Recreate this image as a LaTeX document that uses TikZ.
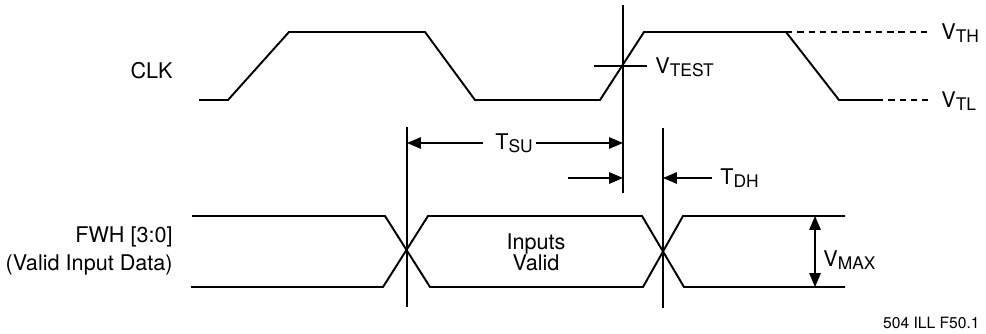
\documentclass[tikz,border=0pt]{standalone}
\usepackage{fontspec}
\setmainfont{TeX Gyre Heros}
\usetikzlibrary{arrows}
\newcommand{\sub}[2]{#1\raisebox{-0.25ex}{\fontsize{9.9}{10}\selectfont #2}}
\tikzset{
  wave/.style={black,line width=1.1pt},
  marker/.style={black,line width=0.8pt},
  levelline/.style={black,line width=1pt,dash pattern=on 3.6pt off 2.8pt},
  lbl/.style={inner sep=0pt,font=\fontsize{12.3}{12}\selectfont}
}

\begin{document}
\begin{tikzpicture}[line cap=butt,line join=miter,>=triangle 45,x=0.02cm,y=-0.02cm]
    \useasboundingbox (0,0) rectangle (986,334);

    % CLK waveform
    \draw[wave] (199,100) -- (228,100) -- (289,32) -- (425,32) -- (475,100) -- (600,100)
        -- (644,32) -- (786,32) -- (839,100) -- (877,100);
    \draw[levelline] (786,32) -- (928,32);
    \draw[levelline] (877,100) -- (928,100);
    \node[lbl,anchor=east] (clk) at (173,71) {CLK};
    \node[lbl,anchor=west] (vth) at (941,33) {\sub{V}{TH}};
    \node[lbl,anchor=west] (vtl) at (941,101) {\sub{V}{TL}};

    % reference lines
    \coordinate (edge top) at (623,5);
    \coordinate (edge bot) at (623,193);
    \coordinate (su top) at (407,127);
    \coordinate (su bot) at (407,307);
    \coordinate (dh top) at (663,128);
    \coordinate (dh bot) at (663,308);
    \foreach \source/\target in {edge top/edge bot, su top/su bot, dh top/dh bot} {
            \draw[marker] (\source) -- (\target);
        }
    \draw[marker] (594,66) -- (647,66);
    \node[lbl,anchor=west] (vtest) at (655,67) {\sub{V}{TEST}};

    % setup time
    \node[lbl] (tsu) at (514,143) {\sub{T}{SU}};
    \draw[marker,->] ([xshift=-7pt]tsu.west) -- (407,143);
    \draw[marker,->] ([xshift=1.5pt]tsu.east) -- (623,143);

    % hold time
    \node[lbl,anchor=west] (tdh) at (720,178) {\sub{T}{DH}};
    \draw[marker,->] (568,178) -- (623,178);
    \draw[marker,->] ([xshift=-4.5pt]tdh.west) -- (663,178);

    % FWH data
    \draw[wave] (192,216) -- (385,216) -- (430,287) -- (643,287) -- (683,216) -- (845,216);
    \draw[wave] (191,287) -- (383,287) -- (428,216) -- (642,216) -- (684,287) -- (845,287);
    \node[lbl,anchor=east,align=right,font=\fontsize{12.3}{16}\selectfont] (fwh) at (173,251)
        {FWH [3:0]\\(Valid Input Data)};
    \node[lbl,align=center] (valid) at (536,252) {Inputs\\Valid};
    \draw[marker,<->] (815,216) -- (815,287);
    \node[lbl,anchor=west] (vmax) at (823,260) {\sub{V}{MAX}};

    \node[lbl,anchor=east,font=\fontsize{8.9}{10}\selectfont] (fig) at (980,323) {504 ILL F50.1};
\end{tikzpicture}
\end{document}
